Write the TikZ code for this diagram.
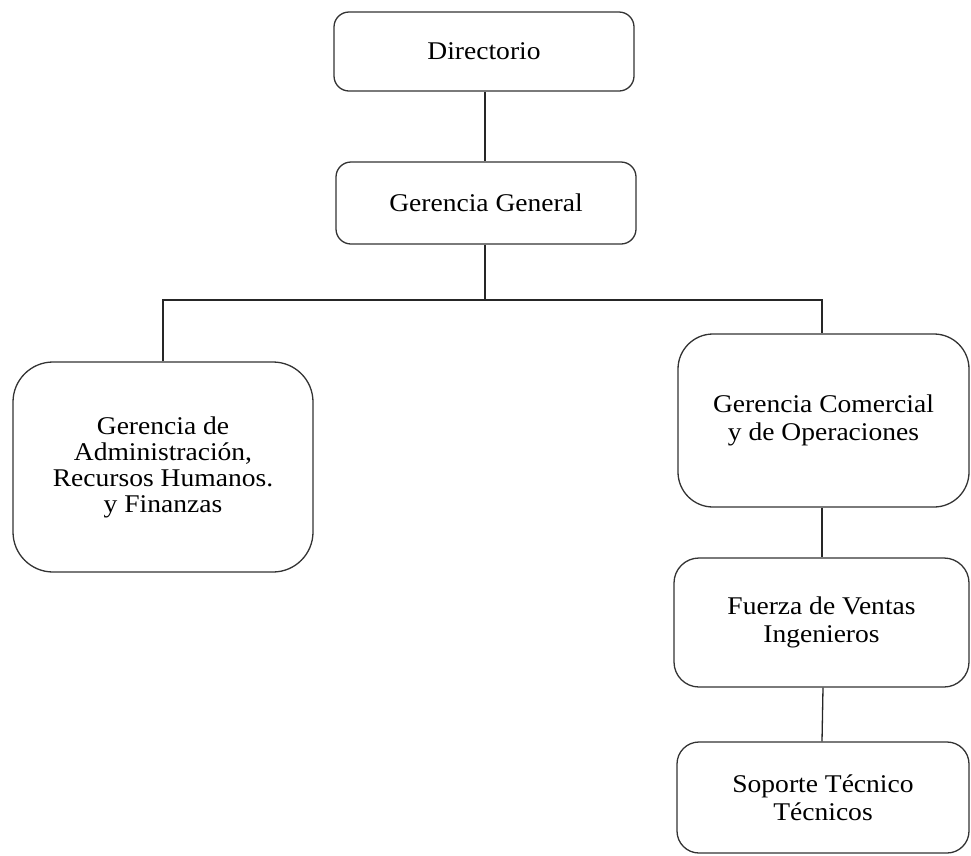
\documentclass[tikz,border=0pt]{standalone}
\usepackage{fontspec}
\setmainfont{Liberation Serif}[FakeStretch=1.08]
\begin{document}
\begin{tikzpicture}[x=1pt,y=-1pt,
  box/.style={draw=black!80, line width=1.3pt, align=center, inner sep=0pt,
    font=\fontsize{25.5}{28}\selectfont},
  conn/.style={draw=black!85, line width=1.3pt}]
\useasboundingbox (0,0) rectangle (971,855);
\node[box, rounded corners=15pt, minimum width=300pt, minimum height=79pt] (dir) at (484,51.5) {Directorio};
\node[box, rounded corners=15pt, minimum width=300pt, minimum height=82pt] (gg) at (486,203) {Gerencia General};
\node[box, rounded corners=40pt, minimum width=300pt, minimum height=210pt,
  font=\fontsize{25.5}{26}\selectfont] (adm) at (163,467)
  {Gerencia de\\Administración,\\Recursos Humanos.\\y Finanzas};
\node[box, rounded corners=35pt, minimum width=291pt, minimum height=173pt] (com) at (823.5,420.5)
  {Gerencia Comercial\\y de Operaciones};
\node[box, rounded corners=25pt, minimum width=295pt, minimum height=129pt] (fv) at (821.5,622.5)
  {Fuerza de Ventas\\Ingenieros};
\node[box, rounded corners=22pt, minimum width=292pt, minimum height=111pt] (st) at (823,797.5)
  {Soporte Técnico\\Técnicos};
\coordinate (j) at (485,300);
\draw[conn] (485,0 |- dir.south) -- (485,0 |- gg.north);
\draw[conn] (485,0 |- gg.south) -- (j);
\draw[conn] (adm.north) |- (j) -| (822,0 |- com.north);
\draw[conn] (822,0 |- com.south) -- (822,0 |- fv.north);
\draw[conn] (823,0 |- fv.south) -- (822,0 |- st.north);
\end{tikzpicture}
\end{document}
